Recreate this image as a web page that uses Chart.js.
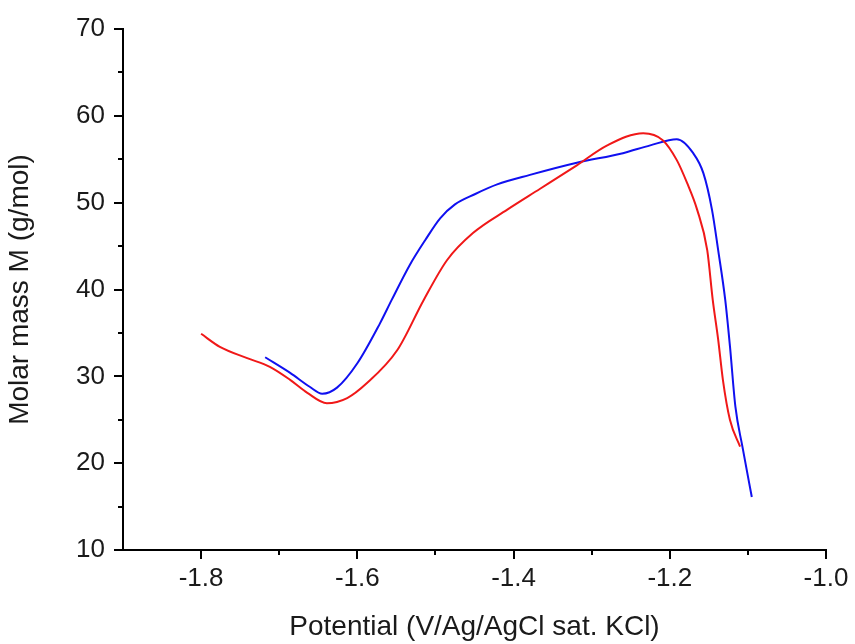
<!DOCTYPE html>
<html>
<head>
<meta charset="utf-8">
<script src="https://cdn.jsdelivr.net/npm/chart.js@4.4.1/dist/chart.umd.min.js"></script>
<style>
  html, body { margin: 0; padding: 0; background: #fff; }
  #wrap { width: 855px; height: 644px; }
</style>
</head>
<body>
<div id="wrap"><canvas id="chart" width="855" height="644"></canvas></div>
<script>
// red curve
const redPotential = [-1.800, -1.776, -1.741, -1.712, -1.686, -1.664, -1.639, -1.613, -1.588, -1.549,
  -1.515, -1.485, -1.452, -1.408, -1.366, -1.319, -1.280, -1.234, -1.209, -1.191,
  -1.178, -1.165, -1.152, -1.145, -1.138, -1.132, -1.123, -1.110];
const redMass = [34.9, 33.4, 32.1, 31.1, 29.6, 28.1, 26.9, 27.5, 29.2, 33.0,
  38.8, 43.4, 46.5, 49.2, 51.6, 54.3, 56.6, 58.0, 57.2, 54.9,
  52.3, 49.2, 44.5, 38.8, 34.2, 29.6, 25.0, 21.9];

// blue curve
const bluePotential = [-1.718, -1.686, -1.661, -1.645, -1.626, -1.600, -1.571, -1.556, -1.533, -1.513,
  -1.494, -1.475, -1.449, -1.421, -1.379, -1.319, -1.260, -1.225, -1.191, -1.170,
  -1.157, -1.146, -1.138, -1.129, -1.123, -1.116, -1.107, -1.095];
const blueMass = [32.2, 30.4, 28.8, 28.0, 28.7, 31.5, 36.1, 38.8, 42.8, 45.7,
  48.2, 49.8, 51.0, 52.1, 53.2, 54.6, 55.7, 56.6, 57.3, 55.7,
  53.4, 49.2, 44.5, 38.8, 33.5, 26.5, 21.9, 16.1];

const xTicks = [-1.8, -1.6, -1.4, -1.2, -1.0];
const xMinorTicks = [-1.7, -1.5, -1.3, -1.1];
const yTicks = [10, 20, 30, 40, 50, 60, 70];
const yMinorTicks = [15, 25, 35, 45, 55, 65];

const toPoints = (xs, ys) => xs.map((x, i) => ({ x: x, y: ys[i] }));

const family = "'Liberation Sans', Arial, sans-serif";
const tickFont = { family: family, size: 26 };
const titleFont = { family: family, size: 28 };

// short minor ticks, drawn through the chart's own scales
const minorTicks = {
  id: "minorTicks",
  afterDraw(chart) {
    const ctx = chart.ctx;
    const xs = chart.scales.x;
    const ys = chart.scales.y;
    const area = chart.chartArea;
    ctx.save();
    ctx.strokeStyle = "#000";
    ctx.lineWidth = 2;
    ctx.beginPath();
    xMinorTicks.forEach((v) => {
      const px = Math.round(xs.getPixelForValue(v));
      ctx.moveTo(px, area.bottom);
      ctx.lineTo(px, area.bottom + 5);
    });
    yMinorTicks.forEach((v) => {
      const py = Math.round(ys.getPixelForValue(v));
      ctx.moveTo(area.left, py);
      ctx.lineTo(area.left - 5, py);
    });
    ctx.stroke();
    ctx.restore();
  },
};

new Chart(document.getElementById("chart").getContext("2d"), {
  type: "line",
  data: {
    datasets: [
      {
        label: "red",
        data: toPoints(redPotential, redMass),
        borderColor: "#f01818",
        borderWidth: 2,
        pointRadius: 0,
        cubicInterpolationMode: "monotone",
        fill: false,
      },
      {
        label: "blue",
        data: toPoints(bluePotential, blueMass),
        borderColor: "#1010f0",
        borderWidth: 2,
        pointRadius: 0,
        cubicInterpolationMode: "monotone",
        fill: false,
      },
    ],
  },
  options: {
    responsive: false,
    animation: false,
    layout: { padding: { left: 0, top: 29, right: 29, bottom: 0 } },
    plugins: {
      legend: { display: false },
      tooltip: { enabled: false },
    },
    scales: {
      x: {
        type: "linear",
        min: -1.9,
        max: -1.0,
        afterBuildTicks: (scale) => {
          scale.ticks = xTicks.map((v) => ({ value: v }));
        },
        afterFit: (scale) => {
          scale.height = 94;
        },
        ticks: {
          color: "#1a1a1a",
          font: tickFont,
          padding: 4,
          maxRotation: 0,
          callback: (v) => Number(v).toFixed(1),
        },
        grid: { drawOnChartArea: false, tickLength: 9, color: "#000", lineWidth: 2 },
        border: { display: true, color: "#000", width: 2 },
        title: {
          display: true,
          text: "Potential (V/Ag/AgCl sat. KCl)",
          color: "#1a1a1a",
          font: titleFont,
          padding: { top: 0, bottom: 0 },
        },
      },
      y: {
        type: "linear",
        min: 10,
        max: 70,
        afterBuildTicks: (scale) => {
          scale.ticks = yTicks.map((v) => ({ value: v }));
        },
        afterFit: (scale) => {
          scale.width = 123;
        },
        ticks: { color: "#1a1a1a", font: tickFont, padding: 9 },
        grid: { drawOnChartArea: false, tickLength: 9, color: "#000", lineWidth: 2 },
        border: { display: true, color: "#000", width: 2 },
        title: {
          display: true,
          text: "Molar mass M (g/mol)",
          color: "#1a1a1a",
          font: titleFont,
          padding: { top: 3, bottom: 0 },
        },
      },
    },
  },
  plugins: [minorTicks],
});
</script>
</body>
</html>
